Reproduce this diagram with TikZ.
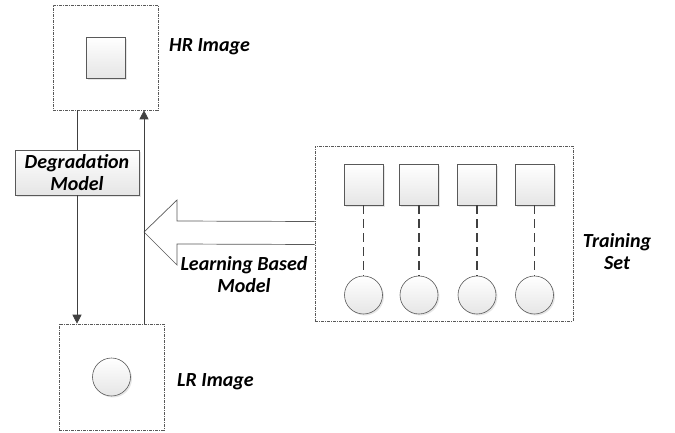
\documentclass[tikz,border=0pt]{standalone}
\usepackage{fontspec}
\setmainfont{Carlito}
\usetikzlibrary{arrows.meta,shadows,calc}

\begin{document}
\begin{tikzpicture}[x=1pt, y=-1pt,
    frame/.style={draw=black!65, dash pattern=on 3pt off 1pt on 1pt off 1pt, line width=0.6pt, inner sep=0},
    item/.style={draw=black!65, line width=0.6pt, top color=white, bottom color=black!10, drop shadow={shadow xshift=1.5pt, shadow yshift=-1.5pt, opacity=0.2}, inner sep=0},
    square/.style={item, minimum width=39pt, minimum height=41pt},
    dot/.style={item, circle, minimum size=38pt},
    link/.style={draw=black!75, line width=1.8pt, dash pattern=on 9pt off 5pt},
    flow/.style={draw=black!75, line width=0.7pt, -{Triangle[width=9pt,length=9pt]}},
    bigarrow/.style={draw=black!65, line width=0.7pt, fill=white},
    lbl/.style={font=\bfseries\itshape\fontsize{20}{22}\selectfont, align=center, inner sep=0}
]
    \useasboundingbox (0,0) rectangle (675,432);
    \node[frame, minimum width=105pt, minimum height=105pt] (hr) at (105.5,57.5) {};
    \node[square] (hrsq) at (hr) {};
    \node[frame, minimum width=105pt, minimum height=106pt] (lr) at (111.5,377) {};
    \node[dot] (lrdot) at (lr) {};
    \node[lbl, anchor=west] (hrlbl) at (169,47) {HR Image};
    \node[lbl, anchor=west] (lrlbl) at (177,382) {LR Image};
    \node[item, lbl, minimum width=124pt, minimum height=45pt] (deg) at (77,172.5) {Degradation\\Model};
    \node[frame, minimum width=258pt, minimum height=175pt] (train) at (444,233.5) {};
    \foreach \x [count=\i] in {363.5,419,477,534.5} {
      \node[square] (s\i) at (\x,184.5) {};
      \node[dot] (c\i) at (\x,295) {};
      \draw[link] (s\i) -- (c\i);
    }
    \node[lbl] (trlbl) at (617,252) {Training\\Set};
    \coordinate (upx) at (144,0);
    \coordinate (tip) at (144,232);
    \draw[bigarrow] ($(train.west)+(0,-12)$) -- ($(tip)+(33,-11)$) -- ++(0,-21) -- (tip) -- ++(33,33) -- ++(0,-21) -- ($(train.west)+(0,11)$);
    \node[lbl] (lbm) at (244,275) {Learning Based\\Model};
    \draw[draw=black!75, line width=0.7pt] (hr.south -| deg) -- (deg);
    \draw[flow] (deg) -- (lr.north -| deg);
    \draw[flow] (lr.north -| upx) -- (hr.south -| upx);
\end{tikzpicture}
\end{document}
